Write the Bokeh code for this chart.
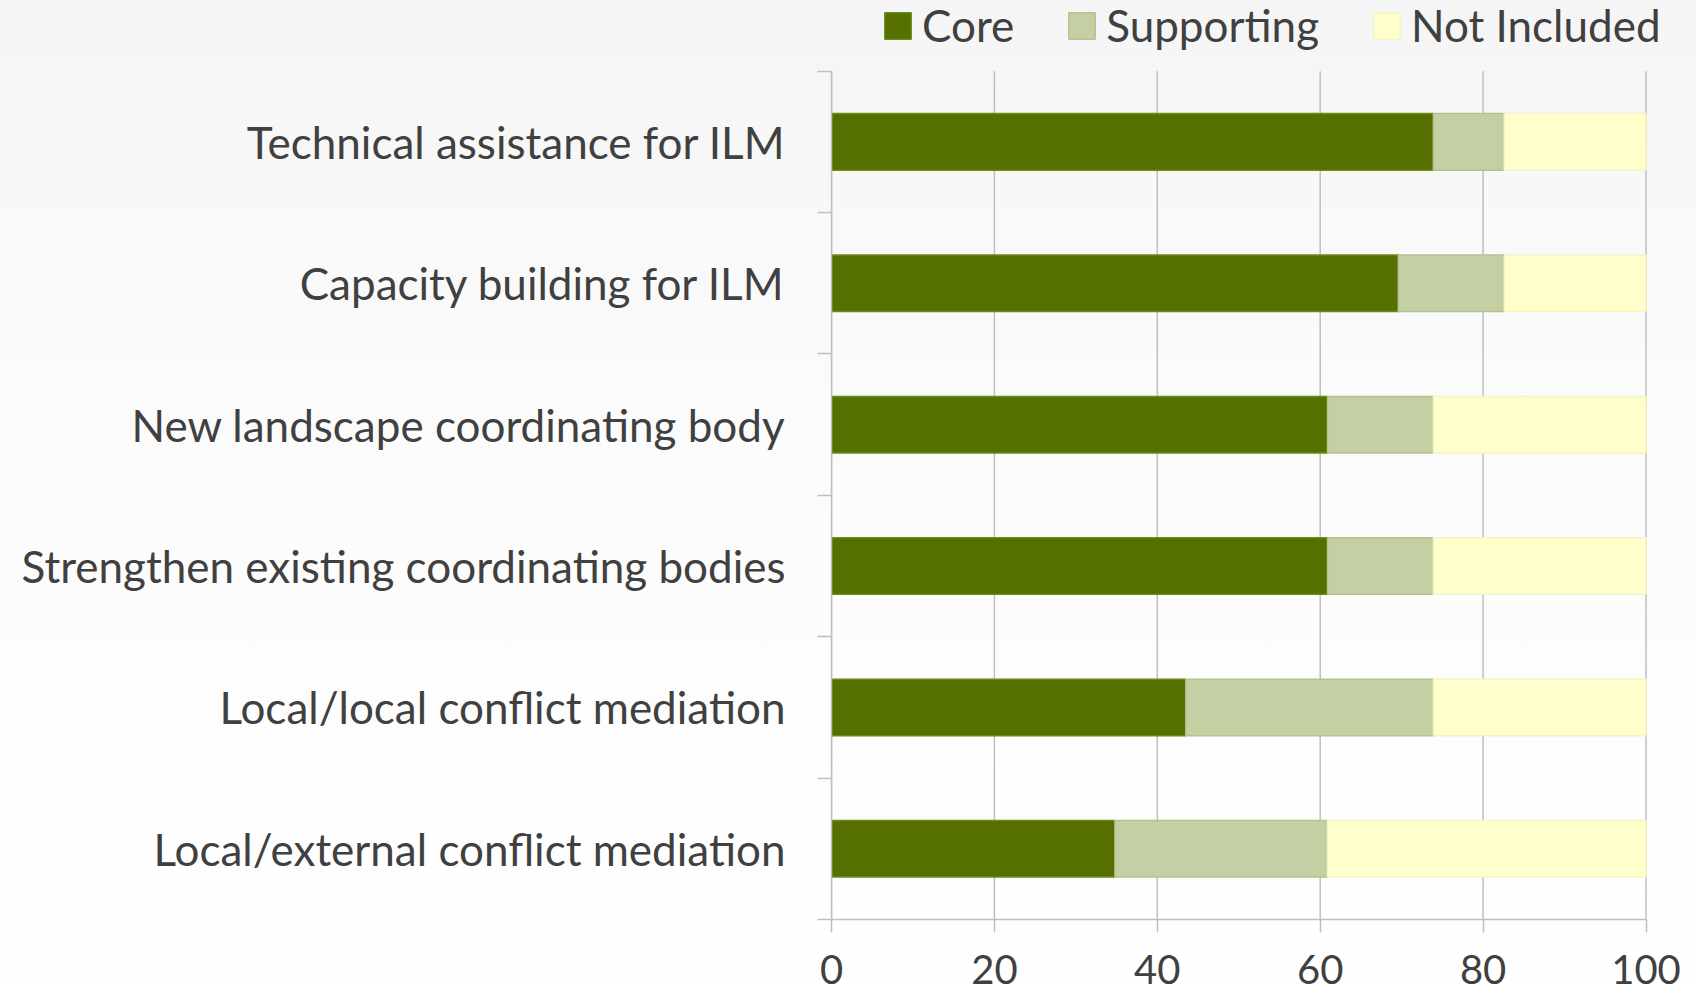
from bokeh.plotting import figure
from bokeh.models import Range1d, FixedTicker, Legend, LegendItem
from bokeh.embed import file_html
from bokeh.resources import INLINE

categories = [
    "Technical assistance for ILM",
    "Capacity building for ILM",
    "New landscape coordinating body",
    "Strengthen existing coordinating bodies",
    "Local/local conflict mediation",
    "Local/external conflict mediation",
]
core = [73.9, 69.6, 60.9, 60.9, 43.5, 34.8]
supporting = [8.7, 13.0, 13.0, 13.0, 30.4, 26.1]
not_included = [17.4, 17.4, 26.1, 26.1, 26.1, 39.1]
series_names = ["Core", "Supporting", "Not Included"]
x_ticks = [0, 20, 40, 60, 80, 100]

colors = ["#557000", "#c4d0a3", "#ffffcc"]
borders = ["#6a8a14", "#b4c290", "#f4f4c4"]
FONT = "Lato"
TEXT = "#404040"
GRID = "#bfbfbf"

n = len(categories)
centers = [n - i - 0.5 for i in range(n)]
bounds = list(range(n + 1))
x_max = x_ticks[-1]

# frame reaches the top and right of the canvas; the extra room holds the legend
p = figure(width=1696, height=1000, output_backend="svg", toolbar_location=None,
           x_range=Range1d(0, x_max * 1.062), y_range=Range1d(0, n + 0.5),
           min_border_left=831, min_border_right=0, min_border_top=0, min_border_bottom=81)
p.background_fill_color = None
p.border_fill_color = None
p.outline_line_color = None
p.styles = {"background": "linear-gradient(to bottom, #f5f5f5 0%, #fbfbfb 40%, #ffffff 100%)"}

# vertical gridlines limited to the chart rows
p.segment(x0=x_ticks, y0=[0] * len(x_ticks), x1=x_ticks, y1=[n] * len(x_ticks),
          line_color=GRID, line_width=1.5, level="underlay")

lefts = [0] * n
renderers = []
for name, vals, c, b in zip(series_names, [core, supporting, not_included], colors, borders):
    rights = [l + v for l, v in zip(lefts, vals)]
    r = p.hbar(y=centers, left=lefts, right=rights, height=0.4,
               fill_color=c, line_color=b, line_width=1.5)
    renderers.append(r)
    lefts = rights

# x axis
xa = p.xaxis[0]
xa.bounds = (0, x_max)
xa.ticker = FixedTicker(ticks=x_ticks, minor_ticks=[])
xa.axis_line_color = GRID
xa.axis_line_width = 1.5
xa.major_tick_line_color = GRID
xa.major_tick_line_width = 1.5
xa.major_tick_out = 13
xa.major_tick_in = 0
xa.major_label_text_font = FONT
xa.major_label_text_font_size = "40px"
xa.major_label_text_color = TEXT
xa.major_label_standoff = 22

# y axis
ya = p.yaxis[0]
ya.bounds = (0, n)
ya.ticker = FixedTicker(ticks=centers, minor_ticks=bounds)
ya.major_label_overrides = {c: cat for c, cat in zip(centers, categories)}
ya.axis_line_color = GRID
ya.axis_line_width = 1.5
ya.major_tick_line_color = None
ya.major_tick_out = 0
ya.major_tick_in = 0
ya.minor_tick_line_color = GRID
ya.minor_tick_line_width = 1.5
ya.minor_tick_out = 14
ya.minor_tick_in = 0
ya.major_label_text_font = FONT
ya.major_label_text_font_size = "44px"
ya.major_label_text_color = TEXT
ya.major_label_standoff = 32

p.xgrid.grid_line_color = None
p.ygrid.grid_line_color = None

legend = Legend(items=[LegendItem(label=nm, renderers=[r]) for nm, r in zip(series_names, renderers)],
                orientation="horizontal", location=(50, 868),
                glyph_width=33, glyph_height=33, label_standoff=8, spacing=51,
                padding=0, margin=0,
                label_text_font=FONT, label_text_font_size="44px", label_text_color=TEXT,
                background_fill_alpha=0, border_line_color=None)
p.add_layout(legend, "center")

open("out.html", "w").write(file_html(p, INLINE))
